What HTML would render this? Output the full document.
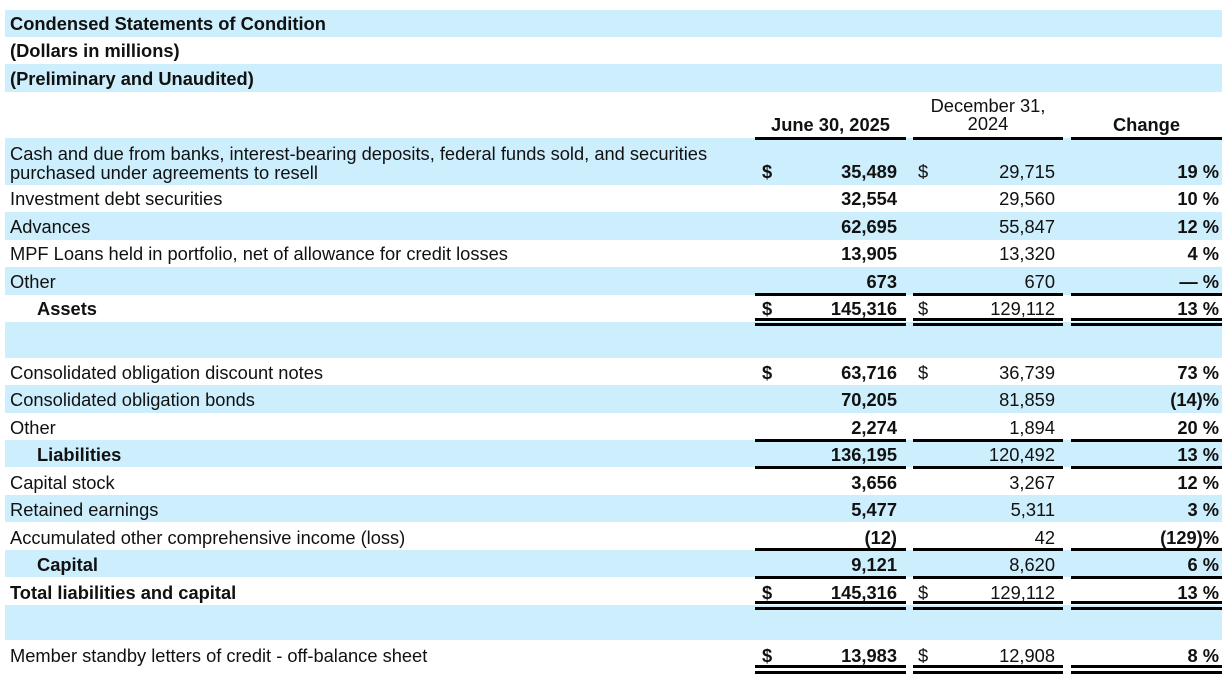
<!DOCTYPE html>
<html><head><meta charset="utf-8"><style>
body{margin:0;width:1230px;height:682px;background:#fff;font-family:"Liberation Sans",Arial,sans-serif;font-size:18.3px;color:#111;position:relative;overflow:hidden}
.b{position:absolute;left:5px;width:1217px;background:#cdeefd}
.t{position:absolute;white-space:nowrap;line-height:18px}
.r{text-align:right}
.bold{font-weight:bold}
.l{position:absolute;background:#000;height:3px}
</style></head><body>
<div class="b" style="top:10px;height:27px"></div>
<div class="b" style="top:64px;height:28px"></div>
<div class="b" style="top:138px;height:47px"></div>
<div class="b" style="top:212px;height:28px"></div>
<div class="b" style="top:267px;height:28px"></div>
<div class="b" style="top:322px;height:36px"></div>
<div class="b" style="top:385px;height:28px"></div>
<div class="b" style="top:440px;height:27px"></div>
<div class="b" style="top:495px;height:27px"></div>
<div class="b" style="top:550px;height:27px"></div>
<div class="b" style="top:605px;height:35px"></div>

<div class="t bold" style="left:10px;top:15px">Condensed Statements of Condition</div>
<div class="t bold" style="left:10px;top:42px">(Dollars in millions)</div>
<div class="t bold" style="left:10px;top:70px">(Preliminary and Unaudited)</div>

<div class="t bold" style="left:755px;width:151px;top:116px;text-align:center">June 30, 2025</div>
<div class="t" style="left:913px;width:150px;top:97px;text-align:center;line-height:18px">December 31,<br>2024</div>
<div class="t bold" style="left:1071px;width:151px;top:116px;text-align:center">Change</div>
<div class="l" style="left:755px;width:151px;top:137px"></div>
<div class="l" style="left:913px;width:150px;top:137px"></div>
<div class="l" style="left:1071px;width:151px;top:137px"></div>

<div id="rows"></div>
<script>
var rows=[
[144,"Cash and due from banks, interest-bearing deposits, federal funds sold, and securities<br>purchased under agreements to resell","35,489","29,715","19 %",1,0,0,2],
[190,"Investment debt securities","32,554","29,560","10 %"],
[218,"Advances","62,695","55,847","12 %"],
[245,"MPF Loans held in portfolio, net of allowance for credit losses","13,905","13,320","4 %"],
[273,"Other","673","670","— %"],
[300,"Assets","145,316","129,112","13 %",1,1,1],
[364,"Consolidated obligation discount notes","63,716","36,739","73 %",1],
[391,"Consolidated obligation bonds","70,205","81,859","(14)%"],
[419,"Other","2,274","1,894","20 %"],
[446,"Liabilities","136,195","120,492","13 %",0,1,1],
[474,"Capital stock","3,656","3,267","12 %"],
[501,"Retained earnings","5,477","5,311","3 %"],
[529,"Accumulated other comprehensive income (loss)","(12)","42","(129)%"],
[556,"Capital","9,121","8,620","6 %",0,1,1],
[584,"Total liabilities and capital","145,316","129,112","13 %",1,1,0],
[647,"Member standby letters of credit - off-balance sheet","13,983","12,908","8 %",1,0,0]];
var h="";
rows.forEach(function(r){
var y=r[0];
if(r[8]) {h+='<div class="t" style="left:10px;top:'+y+'px;line-height:19px">'+r[1]+'</div>';y=y+19;}
else h+='<div class="t'+(r[6]?' bold':'')+'" style="left:'+(r[7]?37:10)+'px;top:'+y+'px">'+r[1]+'</div>';
if(r[5]){h+='<div class="t bold" style="left:762px;top:'+y+'px">$</div><div class="t" style="left:918px;top:'+y+'px">$</div>';}
h+='<div class="t r bold" style="left:755px;width:142px;top:'+y+'px">'+r[2]+'</div>';
h+='<div class="t r" style="left:913px;width:142px;top:'+y+'px">'+r[3]+'</div>';
h+='<div class="t r bold" style="left:1071px;width:148px;top:'+y+'px">'+r[4]+'</div>';
});
function line(y){[[755,151],[913,150],[1071,151]].forEach(function(c){h+='<div class="l" style="left:'+c[0]+'px;width:'+c[1]+'px;top:'+y+'px"></div>';});}
[293,318,323,439,466,548,576,601,607,665,671].forEach(line);
document.getElementById("rows").innerHTML=h;
</script>
</body></html>
